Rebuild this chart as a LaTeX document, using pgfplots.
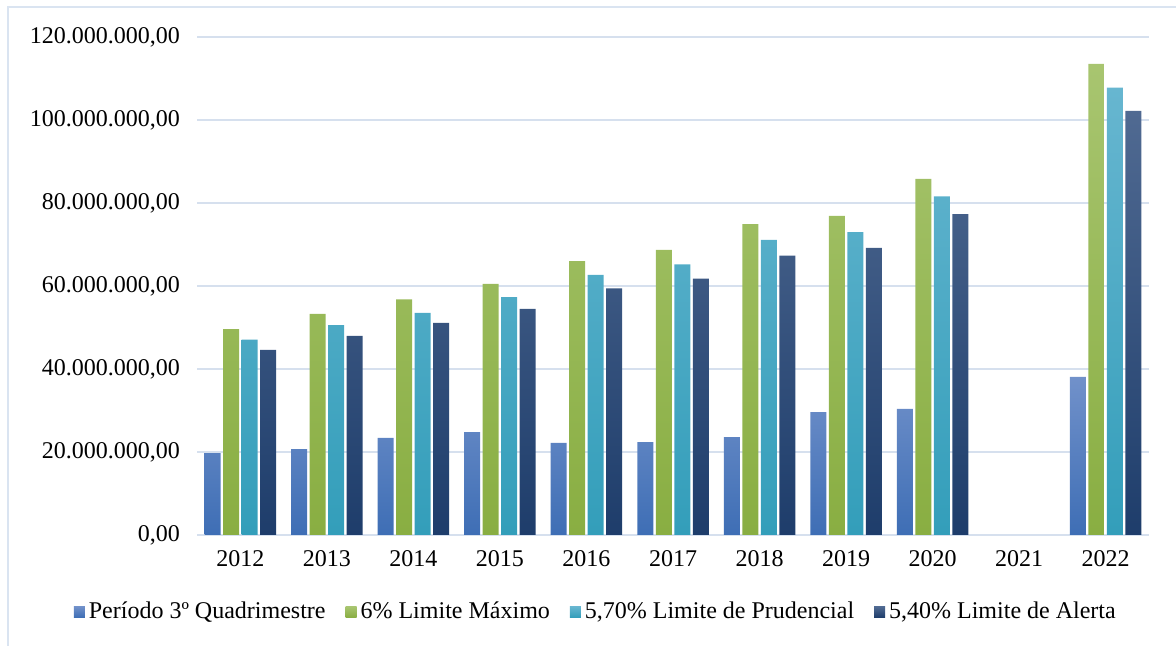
\documentclass[border=0pt]{standalone}
\usepackage{fontspec}
\setmainfont{Liberation Serif}
\usepackage{pgfplots}
\pgfplotsset{compat=1.18}
\definecolor{gridc}{HTML}{D6E0EE}
\definecolor{frm}{HTML}{DAE4F1}
\definecolor{bT}{HTML}{7191CA}
\definecolor{bB}{HTML}{3E6EB5}
\definecolor{gT}{HTML}{A8C570}
\definecolor{gB}{HTML}{89AE42}
\definecolor{cT}{HTML}{67B6D0}
\definecolor{cB}{HTML}{339EBA}
\definecolor{dT}{HTML}{506A92}
\definecolor{dB}{HTML}{1E3D6B}
\begin{document}
\begin{tikzpicture}
\useasboundingbox (0,0) rectangle (588pt,323pt);
\draw[frm, line width=1pt] (4pt,-2pt) -- (4pt,319.5pt) -- (590pt,319.5pt);
\begin{axis}[
  at={(98.5pt,55.5pt)}, anchor=south west,
  scale only axis, width=476pt, height=249pt,
  xmin=-0.5, xmax=10.5, ymin=0, ymax=120000000,
  scaled y ticks=false,
  ybar=1.25pt, bar width=8pt,
  xtick={0,...,10},
  xticklabels={2012,2013,2014,2015,2016,2017,2018,2019,2020,2021,2022},
  ytick={0,20000000,40000000,60000000,80000000,100000000,120000000},
  yticklabels={{0,00},{20.000.000,00},{40.000.000,00},{60.000.000,00},{80.000.000,00},{100.000.000,00},{120.000.000,00}},
  major tick length=0,
  ymajorgrids, grid style={gridc, line width=1pt},
  axis x line*=bottom, axis y line*=left,
  x axis line style={-, draw=gridc, line width=1pt},
  y axis line style={draw=none},
  tick label style={font=\fontsize{12}{14}\selectfont, black},
  y tick label style={xshift=-5pt},
  x tick label style={yshift=-4pt},
  legend style={at={(0.42,-0.1546)}, anchor=center, draw=none, fill=none,
    font=\fontsize{12}{14}\selectfont, legend columns=-1,
    /tikz/every even column/.append style={column sep=8pt}},
  legend image code/.code={\path[#1, draw=none] (0pt,-2.75pt) rectangle (5.5pt,2.75pt);},
]
\addplot[draw=none, top color=bT, bottom color=bB] coordinates {
 (0,19700000) (1,20700000) (2,23400000) (3,24800000) (4,22200000) (5,22400000) (6,23600000) (7,29600000) (8,30400000) (10,38100000)};
\addplot[draw=none, top color=gT, bottom color=gB] coordinates {
 (0,49600000) (1,53300000) (2,56800000) (3,60500000) (4,66000000) (5,68700000) (6,74900000) (7,76900000) (8,85800000) (10,113500000)};
\addplot[draw=none, top color=cT, bottom color=cB] coordinates {
 (0,47100000) (1,50600000) (2,53500000) (3,57300000) (4,62700000) (5,65200000) (6,71100000) (7,73000000) (8,81600000) (10,107800000)};
\addplot[draw=none, top color=dT, bottom color=dB] coordinates {
 (0,44600000) (1,48000000) (2,51100000) (3,54500000) (4,59400000) (5,61800000) (6,67300000) (7,69200000) (8,77300000) (10,102200000)};
\legend{Período 3º Quadrimestre, 6\% Limite Máximo, {5,70\% Limite de Prudencial}, {5,40\% Limite de Alerta}}
\end{axis}
\end{tikzpicture}
\end{document}
